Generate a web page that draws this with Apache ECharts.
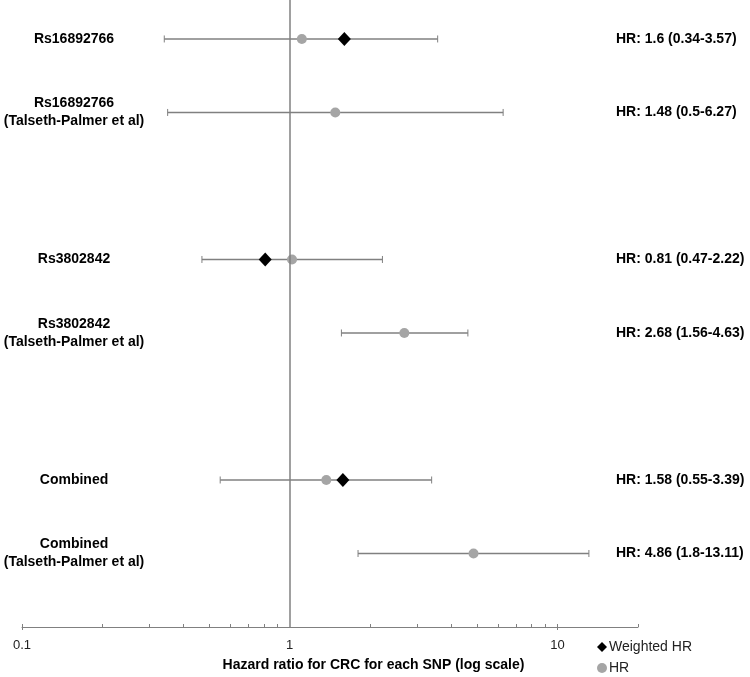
<!DOCTYPE html>
<html>
<head>
<meta charset="utf-8">
<script src="https://cdn.jsdelivr.net/npm/echarts@6/dist/echarts.min.js"></script>
<style>
  html, body { margin: 0; padding: 0; background: #fff; }
  #chart { width: 750px; height: 677px; }
</style>
</head>
<body>
<div id="chart"></div>
<script>
// rows from top to bottom (gaps between the three groups)
const rowPos = [0, 1, 3, 4, 6, 7];
const snpLabels = [
    'Rs16892766',
    'Rs16892766\n(Talseth-Palmer et al)',
    'Rs3802842',
    'Rs3802842\n(Talseth-Palmer et al)',
    'Combined',
    'Combined\n(Talseth-Palmer et al)'
];
const hrText = [
    'HR: 1.6 (0.34-3.57)',
    'HR: 1.48 (0.5-6.27)',
    'HR: 0.81 (0.47-2.22)',
    'HR: 2.68 (1.56-4.63)',
    'HR: 1.58 (0.55-3.39)',
    'HR: 4.86 (1.8-13.11)'
];
const hrValues = [1.11, 1.48, 1.02, 2.68, 1.37, 4.86];
const weightedHR = [1.6, null, 0.81, null, 1.58, null];
const ciLow = [0.34, 0.35, 0.47, 1.56, 0.55, 1.8];
const ciHigh = [3.57, 6.27, 2.22, 4.63, 3.39, 13.11];
const xTicks = [0.1, 1, 10];
const minorTicks = [0.2, 0.3, 0.4, 0.5, 0.6, 0.7, 0.8, 0.9, 2, 3, 4, 5, 6, 7, 8, 9, 0.1, 10, 20];

const FONT = '"Liberation Sans", Arial, sans-serif';
const GREY = '#808080';

function initForestPlot() {
    const myChart = echarts.init(document.getElementById('chart'));

    const barData = rowPos.map((r, i) => [r, ciLow[i], ciHigh[i]]);
    const hrData = rowPos.map((r, i) => [hrValues[i], r]);
    const wData = [];
    rowPos.forEach((r, i) => { if (weightedHR[i] != null) wData.push([weightedHR[i], r]); });

    const yBase = {
        type: 'value',
        min: -0.53,
        max: 8,
        inverse: true,
        splitLine: { show: false },
        axisLine: { show: false, onZero: false },
        axisTick: { show: false }
    };

    const option = {
        animation: false,
        grid: { left: 22, right: 112, top: 0, bottom: 50 },
        legend: {
            orient: 'vertical',
            left: 597,
            top: 640,
            height: 60,
            padding: 0,
            itemWidth: 10,
            itemHeight: 10,
            itemGap: 7,
            data: [
                { name: 'Weighted HR', icon: 'diamond' },
                { name: 'HR', icon: 'circle' }
            ],
            textStyle: { fontFamily: FONT, fontSize: 14, color: '#222', padding: [0, 0, 0, -3] }
        },
        xAxis: [
            {
                type: 'log',
                logBase: 10,
                min: 0.1,
                max: 20,
                position: 'bottom',
                name: 'Hazard ratio for CRC for each SNP (log scale)',
                nameLocation: 'middle',
                nameGap: 31,
                nameTextStyle: {
                    fontFamily: FONT, fontSize: 14, fontWeight: 'bold', color: '#000',
                    padding: [0, 0, 0, 87]
                },
                axisLine: { onZero: false, lineStyle: { color: GREY, width: 1 } },
                axisTick: { show: true, length: 3, customValues: [0.1, 10], lineStyle: { color: GREY } },
                axisLabel: {
                    customValues: xTicks,
                    margin: 12,
                    fontFamily: FONT,
                    fontSize: 13,
                    color: '#222',
                    formatter: v => String(+v.toPrecision(3))
                },
                splitLine: { show: false },
                minorTick: { show: false }
            },
            {
                // second axis only for the small log ticks
                type: 'log',
                logBase: 10,
                min: 0.1,
                max: 20,
                position: 'bottom',
                axisLine: { show: false, onZero: false },
                axisTick: { show: true, inside: true, length: 3, customValues: minorTicks, lineStyle: { color: GREY } },
                axisLabel: { show: false },
                splitLine: { show: false }
            }
        ],
        yAxis: [
            Object.assign({}, yBase, {
                position: 'left',
                axisLabel: {
                    inside: true,
                    margin: 52,
                    align: 'center',
                    customValues: rowPos,
                    fontFamily: FONT,
                    fontSize: 14,
                    fontWeight: 'bold',
                    color: '#000',
                    lineHeight: 18,
                    formatter: v => snpLabels[rowPos.indexOf(+v)]
                }
            }),
            Object.assign({}, yBase, {
                position: 'right',
                axisLabel: {
                    inside: true,
                    margin: 22,
                    align: 'left',
                    customValues: rowPos,
                    fontFamily: FONT,
                    fontSize: 14,
                    fontWeight: 'bold',
                    color: '#000',
                    formatter: v => hrText[rowPos.indexOf(+v)]
                }
            })
        ],
        series: [
            {
                name: 'CI',
                type: 'custom',
                xAxisIndex: 0,
                yAxisIndex: 0,
                encode: { x: [1, 2], y: 0 },
                data: barData,
                renderItem: function (params, api) {
                    const a = api.coord([api.value(1), api.value(0)]);
                    const b = api.coord([api.value(2), api.value(0)]);
                    const s = { stroke: GREY, lineWidth: 1.5 };
                    const c = { stroke: GREY, lineWidth: 1 };
                    return {
                        type: 'group',
                        children: [
                            { type: 'line', shape: { x1: a[0], y1: a[1], x2: b[0], y2: b[1] }, style: s },
                            { type: 'line', shape: { x1: a[0], y1: a[1] - 3.5, x2: a[0], y2: a[1] + 3.5 }, style: c },
                            { type: 'line', shape: { x1: b[0], y1: b[1] - 3.5, x2: b[0], y2: b[1] + 3.5 }, style: c }
                        ]
                    };
                },
                markLine: {
                    silent: true,
                    symbol: 'none',
                    label: { show: false },
                    lineStyle: { color: GREY, width: 1.5, type: 'solid' },
                    data: [{ xAxis: 1 }]
                },
                z: 2
            },
            {
                name: 'HR',
                type: 'scatter',
                symbol: 'circle',
                symbolSize: 10,
                itemStyle: { color: '#a5a5a5', opacity: 1 },
                data: hrData,
                z: 3
            },
            {
                name: 'Weighted HR',
                type: 'scatter',
                symbol: 'diamond',
                symbolSize: [13, 14],
                itemStyle: { color: '#000', opacity: 1 },
                data: wData,
                z: 4
            }
        ]
    };
    myChart.setOption(option);
    window.addEventListener('resize', () => myChart.resize());
}
window.addEventListener('load', initForestPlot);
</script>
</body>
</html>
